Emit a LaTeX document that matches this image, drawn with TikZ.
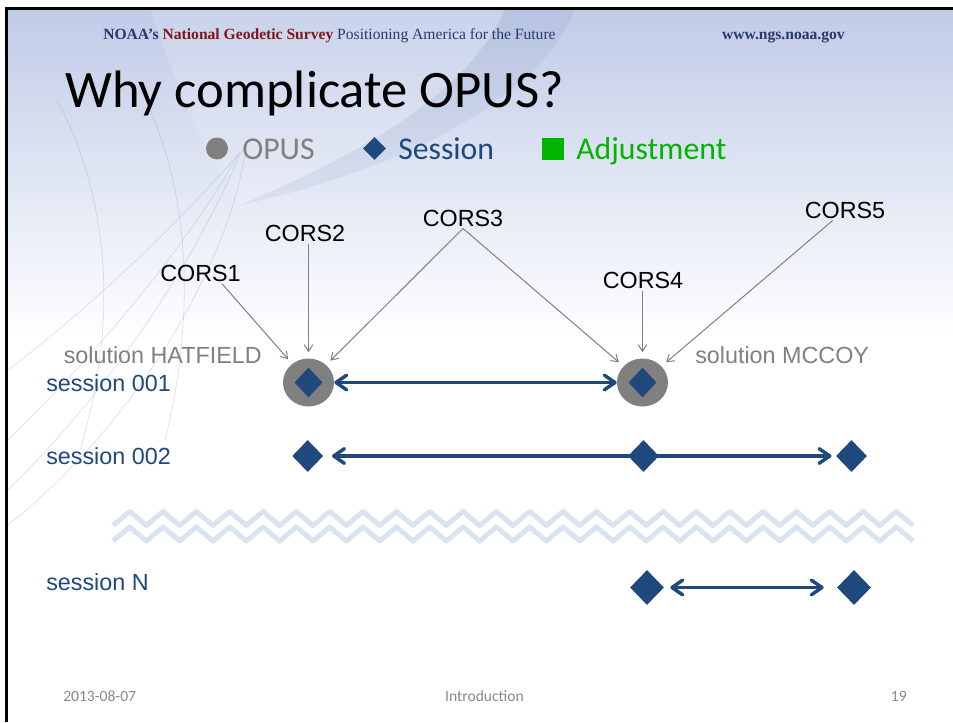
\documentclass[tikz,border=0pt]{standalone}
\usepackage{fontspec}
\usepackage{tikz}
\usetikzlibrary{arrows.meta,shapes.geometric}

\newfontfamily\calibri{Carlito}
\newfontfamily\arial{Liberation Sans}
\newfontfamily\headserif{Liberation Serif}

\definecolor{sessblue}{RGB}{31,73,125}
\definecolor{opusgray}{RGB}{128,128,128}
\definecolor{footgray}{RGB}{137,137,137}
\definecolor{adjgreen}{RGB}{0,180,0}
\definecolor{bgblue}{RGB}{192,203,231}
\definecolor{breakblue}{RGB}{218,228,241}
\definecolor{globeline}{RGB}{140,152,190}
\definecolor{noaablue}{RGB}{40,58,108}
\definecolor{noaared}{RGB}{128,22,26}

\begin{document}
\begin{tikzpicture}[x=0.75pt, y=-0.75pt,
    corslabel/.style={font=\arial\fontsize{17.5}{21}\selectfont, inner sep=1.5pt, anchor=base},
    solnlabel/.style={font=\arial\fontsize{17.5}{21}\selectfont, text=opusgray, inner sep=0pt},
    sesslabel/.style={font=\arial\fontsize{17.5}{21}\selectfont, text=sessblue, inner sep=0pt, anchor=base west},
    keytext/.style={font=\calibri\fontsize{23.8}{28}\selectfont, inner sep=0pt, anchor=base west},
    footer/.style={font=\calibri\fontsize{11.7}{14}\selectfont, text=footgray, inner sep=0pt},
    opus/.style={ellipse, fill=opusgray, minimum width=38.25pt, minimum height=36pt, inner sep=0pt},
    sess/.style={diamond, fill=sessblue, inner sep=0pt, minimum width=23.25pt, minimum height=24pt},
    sessbig/.style={sess, minimum width=25.5pt, minimum height=26.25pt},
    sessin/.style={sess, minimum width=21pt, minimum height=22.5pt},
    feed/.style={draw=opusgray, line width=0.75pt, arrows={-Straight Barb[length=5pt,width=6.5pt]}, shorten >=4.5pt},
    link/.style={draw=sessblue, line width=2.6pt, arrows={Straight Barb[length=8pt,width=11pt,round]-Straight Barb[length=8pt,width=11pt,round]}},
    breakline/.style={draw=breakblue, line width=3.75pt, line join=round},
    globe/.style={draw=globeline, line width=0.5pt, opacity=0.3},
  ]
  \useasboundingbox (0,0) rectangle (953,722);
  \fill[white] (0,0) rectangle (953,722);
  \shade[top color=bgblue, bottom color=white] (8,9) rectangle (953,340);
  \fill[white, opacity=0.15] (150,9) .. controls (180,100) and (215,170) .. (240,205)
    .. controls (370,150) and (470,90) .. (505,9) -- cycle;
  \fill[sessblue, opacity=0.06] (240,205) .. controls (400,170) and (540,100) .. (575,9)
    -- (505,9) .. controls (470,90) and (370,150) .. (240,205) -- cycle;
  \draw[globe] (8,490) .. controls (120,380) and (200,250) .. (242,150);
  \draw[globe] (8,440) .. controls (110,340) and (190,240) .. (240,152);
  \draw[globe] (8,370) .. controls (100,300) and (180,220) .. (238,155);
  \draw[globe] (8,525) .. controls (140,420) and (230,260) .. (246,148);
  \draw[globe] (57,100) .. controls (100,180) and (125,300) .. (80,450);
  \draw[globe] (150,110) .. controls (190,200) and (195,320) .. (165,440);
  \fill[black] (5,6.5) rectangle (953,9.5);
  \fill[black] (5,6.5) rectangle (8,722);

  \node[anchor=base west, inner sep=0pt, font=\headserif\fontsize{11.7}{14}\selectfont] (header) at (103,39)
    {\textbf{\color{noaablue}NOAA’s} \textbf{\color{noaared}National Geodetic Survey} {\color{noaablue}Positioning America for the Future}};
  \node[anchor=base east, inner sep=0pt, text=noaablue, font=\headserif\bfseries\fontsize{11.7}{14}\selectfont] (site) at (845,39) {www.ngs.noaa.gov};
  \node[anchor=base west, inner sep=0pt, font=\calibri\fontsize{39.5}{46}\selectfont] (title) at (65,107) {Why complicate OPUS?};

  \node[circle, fill=opusgray, minimum size=16.5pt, inner sep=0pt] (keyopus) at (217,148.5) {};
  \node[keytext, text=opusgray] (keyopustext) at (242,159.5) {OPUS};
  \node[sess, minimum width=17.25pt, minimum height=17.25pt] (keysess) at (374.5,148.5) {};
  \node[keytext, text=sessblue] (keysesstext) at (398,159.5) {Session};
  \node[fill=adjgreen, minimum size=16.5pt, inner sep=0pt] (keyadj) at (553,149) {};
  \node[keytext, text=adjgreen] (keyadjtext) at (576,159.5) {Adjustment};

  \node[corslabel] (cors1) at (200.5,281) {CORS1};
  \node[corslabel] (cors2) at (305,241) {CORS2};
  \node[corslabel] (cors3) at (463,226) {CORS3};
  \node[corslabel] (cors4) at (643,288) {CORS4};
  \node[corslabel] (cors5) at (845,218) {CORS5};

  \node[solnlabel, anchor=base east] (hatlabel) at (262,363) {solution HATFIELD};
  \node[solnlabel, anchor=base west] (mccoylabel) at (695,363) {solution MCCOY};
  \node[sesslabel] (s1label) at (46,391) {session 001};
  \node[sesslabel] (s2label) at (46,464) {session 002};
  \node[sesslabel] (sNlabel) at (46,590) {session N};

  \node[opus] (hat) at (308.5,382.5) {};
  \node[opus] (mccoy) at (642.5,382.5) {};
  \node[sessin] (hatd) at (hat) {};
  \node[sessin] (mccoyd) at (mccoy) {};

  \path ([xshift=16pt]cors1.south) edge[feed] (hat)
        (cors2.south -| hat) edge[feed] (hat)
        (cors3.south) edge[feed] (hat)
        (cors3.south) edge[feed] (mccoy)
        (cors4.south -| mccoy) edge[feed] (mccoy)
        (cors5) edge[feed] (mccoy);

  \draw[link] (hat) -- (mccoy);

  \node[sess] (s2a) at (307.7,456) {};
  \node[sess] (s2c) at (851.5,456) {};
  \draw[link] (s2a) -- (s2c) [shorten <=6.4pt, shorten >=3.2pt];
  \node[sess] (s2b) at (643.5,456) {};

  \foreach \row in {0,1}
    \draw[breakline] (113,525.5+15.5*\row) \foreach \k in {1,...,24} { -- ++(16.667,-14) -- ++(16.667,14) };

  \node[sessbig] (sNa) at (647,587.5) {};
  \node[sessbig] (sNb) at (854,587.5) {};
  \draw[link] (sNa) -- (sNb) [shorten <=4.5pt, shorten >=9.75pt];

  \node[footer, anchor=base west] (date) at (63,701) {2013-08-07};
  \node[footer, anchor=base] (topic) at (484.5,701) {Introduction};
  \node[footer, anchor=base east] (page) at (907,701) {19};
\end{tikzpicture}
\end{document}
